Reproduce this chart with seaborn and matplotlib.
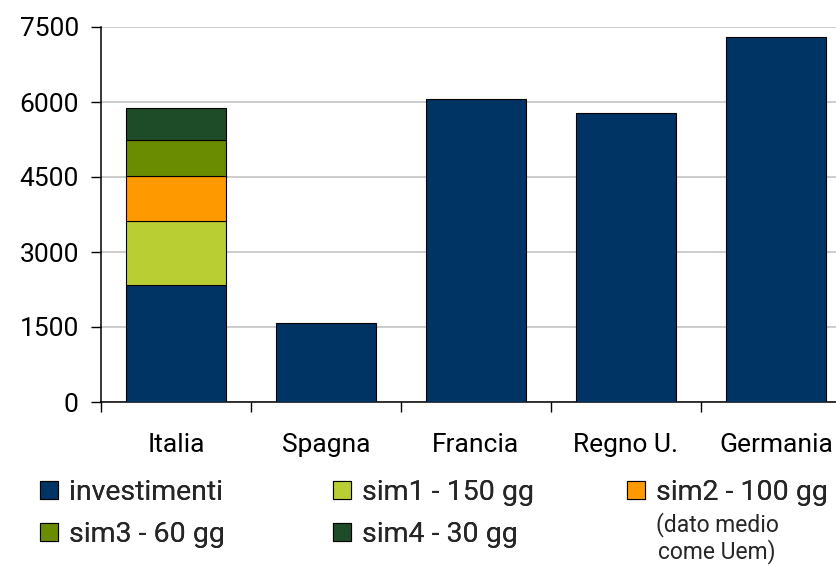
import matplotlib
matplotlib.use("Agg")
import matplotlib.pyplot as plt
import seaborn as sns
import numpy as np
from matplotlib.patches import Patch

categories = ["Italia", "Spagna", "Francia", "Regno U.", "Germania"]
investimenti = [2350, 1580, 6070, 5790, 7310]
sim_labels = ["sim1 - 150 gg", "sim2 - 100 gg", "sim3 - 60 gg", "sim4 - 30 gg"]
sim_values_italia = [1280, 900, 720, 630]
yticks = [0, 1500, 3000, 4500, 6000, 7500]
note = "(dato medio\ncome Uem)"

c_inv = "#003464"
sim_colors = ["#B8CE32", "#FF9900", "#6A8C00", "#1E4B28"]

sns.set_theme(style="white")
plt.rcParams['font.family'] = ['Roboto', 'DejaVu Sans']

fig = plt.figure(figsize=(8.37, 5.65), dpi=100)
ax = fig.add_axes([101/837, 1-402/565, 750/837, 375/565])

bw = 0.667
sns.barplot(x=categories, y=investimenti, order=categories, color=c_inv,
            saturation=1, width=bw, edgecolor="black", linewidth=0.8, ax=ax, zorder=3)
bottom = investimenti[0]
for lab, val, col in zip(sim_labels, sim_values_italia, sim_colors):
    sns.barplot(x=["Italia"], y=[val], order=categories, color=col, saturation=1,
                width=bw, bottom=bottom, edgecolor="black", linewidth=0.8, ax=ax, zorder=3)
    bottom += val

ax.set_xlim(-0.5, 4.5)
ax.set_ylim(0, 7500)
ax.set_yticks(yticks)
ax.set_yticklabels([str(v) for v in yticks], fontsize=19, color="black")
ax.set_xticks(np.arange(-0.5, 5.0, 1.0))
ax.set_xticklabels([])
ax.set_xticks(np.arange(len(categories)), minor=True)
ax.set_xticklabels(categories, minor=True, fontsize=19, color="black")
ax.tick_params(axis="x", which="major", length=7, width=1, color="black", direction="out", bottom=True)
ax.tick_params(axis="x", which="minor", length=0, pad=22)
ax.tick_params(axis="y", length=7, width=1, color="black", direction="out", left=True, pad=9)
ax.set_xlabel("")
ax.set_ylabel("")
ax.yaxis.grid(True, color="#C8C8C8", linewidth=1.3, zorder=0)
ax.set_axisbelow(True)
for s in ["top", "right"]:
    ax.spines[s].set_visible(False)
for s in ["left", "bottom"]:
    ax.spines[s].set_color("black")
    ax.spines[s].set_linewidth(1.1)
ax.spines["left"].set_zorder(4)

def h(c):
    return Patch(facecolor=c, edgecolor="black", linewidth=0.8)

leg_kw = dict(frameon=False, fontsize=20.5, handlelength=0.62, handleheight=0.62,
              handletextpad=0.4, labelspacing=0.52, borderpad=0, borderaxespad=0,
              loc="upper left")
cols = [
    ([h(c_inv), h(sim_colors[2])], ["investimenti", sim_labels[2]], 40),
    ([h(sim_colors[0]), h(sim_colors[3])], [sim_labels[0], sim_labels[3]], 333),
    ([h(sim_colors[1])], [sim_labels[1]], 627),
]
for handles, labels, xpx in cols:
    lg = fig.legend(handles, labels, bbox_to_anchor=(xpx/837, 1-479/565), **leg_kw)
    fig.add_artist(lg)

fig.text(717/837, 1-538/565, note, ha="center", va="center", fontsize=16.5,
         linespacing=1.1)

fig.savefig("out.png", dpi=100)
